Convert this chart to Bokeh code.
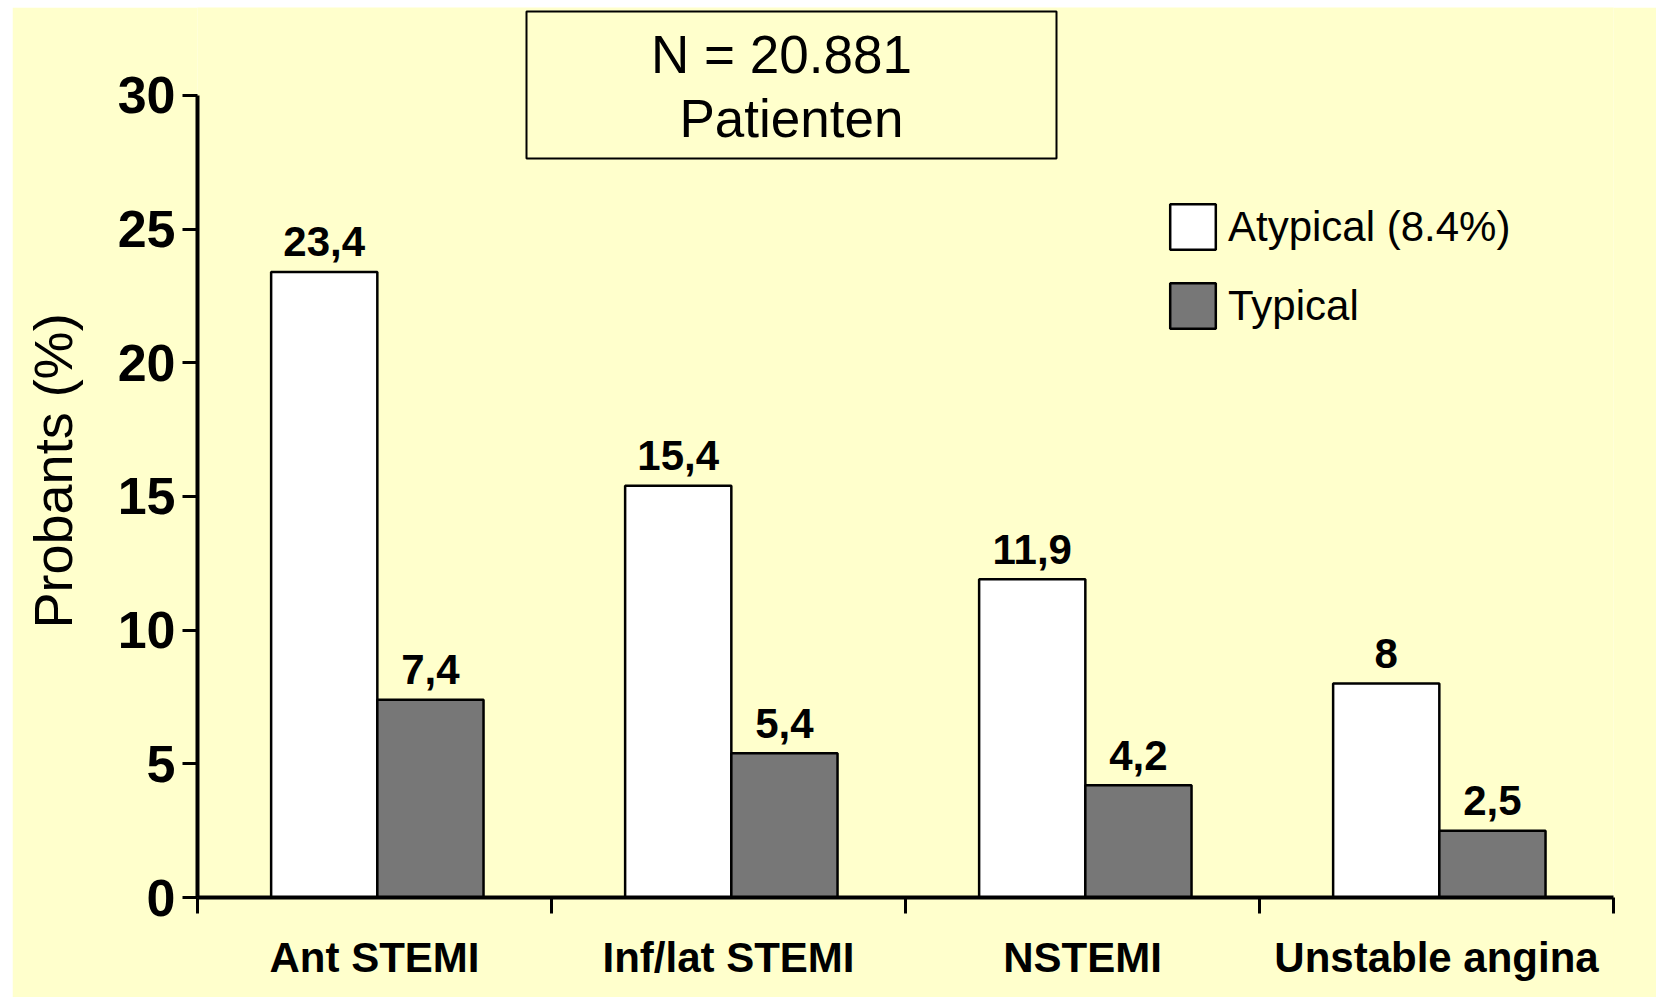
import numpy as np
from bokeh.plotting import figure
from bokeh.models import (Range1d, FixedTicker, Legend, LegendItem, BoxAnnotation,
                          Label, Title, LinearAxis, ColumnDataSource)
from bokeh.core.properties import value
from bokeh.embed import file_html
from bokeh.resources import INLINE

# ---------------- data ----------------
categories = ["Ant STEMI", "Inf/lat STEMI", "NSTEMI", "Unstable angina"]
atypical = [23.4, 15.4, 11.9, 8.0]
typical = [7.4, 5.4, 4.2, 2.5]
series_names = ["Atypical (8.4%)", "Typical"]
y_ticks = [0, 5, 10, 15, 20, 25, 30]
title_lines = ["N = 20.881", "Patienten"]
y_label = "Probants (%)"

# ---------------- style ----------------
BG = "#FFFFCC"
GREY = "#777777"
FONT = "Liberation Sans"
Y_TOP = 33.29     # frame extends above the axis (axis itself bounded at 30)
PAIR_CENTER = 0.508
BAR_W = 0.30


def fmt(v):
    return f"{v:g}".replace(".", ",")


n = len(categories)
centers = np.arange(n) + PAIR_CENTER
src_a = ColumnDataSource(dict(x=centers - BAR_W / 2, top=atypical,
                              lbl=[fmt(v) for v in atypical]))
src_t = ColumnDataSource(dict(x=centers + BAR_W / 2, top=typical,
                              lbl=[fmt(v) for v in typical]))

p = figure(width=1644, height=990, x_range=Range1d(0, n), y_range=Range1d(0, Y_TOP),
           output_backend="svg", toolbar_location=None,
           min_border_left=185, min_border_right=43, min_border_top=0,
           min_border_bottom=100,
           background_fill_color=BG, border_fill_color=BG, outline_line_color=None)
p.margin = (7, 0, 0, 12)
p.grid.visible = False

ra = p.vbar(x="x", top="top", bottom=0, width=BAR_W, source=src_a,
            fill_color="white", line_color="black", line_width=2.5)
rt = p.vbar(x="x", top="top", bottom=0, width=BAR_W, source=src_t,
            fill_color=GREY, line_color="black", line_width=2.5)

for src in (src_a, src_t):
    p.text(x="x", y="top", text="lbl", source=src, text_font=value(FONT),
           text_font_style="bold", text_font_size="42px", text_align="center",
           text_baseline="alphabetic", y_offset=-30, text_color="black")

# y axis
ya = p.yaxis[0]
ya.ticker = FixedTicker(ticks=y_ticks)
ya.bounds = (y_ticks[0], y_ticks[-1])
ya.axis_line_width = 4
ya.axis_line_color = "black"
ya.major_tick_line_width = 3
ya.major_tick_out = 15
ya.major_tick_in = 0
ya.minor_tick_out = 0
ya.minor_tick_in = 0
ya.major_label_standoff = 7
ya.major_label_text_font = FONT
ya.major_label_text_font_style = "bold"
ya.major_label_text_font_size = "52px"
ya.major_label_text_color = "black"

# invisible spacer panel between the tick labels and the axis title
spacer = LinearAxis(ticker=FixedTicker(ticks=[y_ticks[0]]), axis_line_color=None,
                    major_tick_out=32, major_tick_in=0, minor_tick_out=0, minor_tick_in=0,
                    major_tick_line_color=None, minor_tick_line_color=None,
                    major_label_standoff=0, major_label_overrides={y_ticks[0]: ""})
p.add_layout(spacer, "left")

# y axis title, as a side title so it can be nudged along the axis
p.add_layout(Title(text=y_label, align="left", offset=269, vertical_align="bottom",
                   text_font=FONT, text_font_size="54px", text_font_style="normal",
                   text_color="black", standoff=0), "left")

# x axis: labels centred in category, ticks at boundaries
xa = p.xaxis[0]
label_pos = [float(i) + 0.5 for i in range(n)]
xa.ticker = FixedTicker(ticks=label_pos, minor_ticks=[float(i) for i in range(n + 1)])
xa.major_label_overrides = {pos: c for pos, c in zip(label_pos, categories)}
xa.axis_line_width = 4
xa.axis_line_color = "black"
xa.major_tick_out = 0
xa.major_tick_in = 0
xa.major_tick_line_color = None
xa.minor_tick_out = 16
xa.minor_tick_in = 0
xa.minor_tick_line_width = 3
xa.minor_tick_line_color = "black"
xa.major_label_standoff = 20
xa.major_label_text_font = FONT
xa.major_label_text_font_style = "bold"
xa.major_label_text_font_size = "42px"
xa.major_label_text_color = "black"

# legend
legend = Legend(items=[LegendItem(label=series_names[0], renderers=[ra]),
                       LegendItem(label=series_names[1], renderers=[rt])],
                location=(967, 563), orientation="vertical",
                border_line_color=None, background_fill_alpha=0,
                padding=0, margin=0, spacing=22, label_standoff=7,
                glyph_width=57, glyph_height=57, label_height=57,
                label_text_font=FONT, label_text_font_size="42px",
                label_text_color="black")
p.add_layout(legend)

# title box
box = BoxAnnotation(left=329, right=859, bottom=739, top=886,
                    left_units="screen", right_units="screen",
                    top_units="screen", bottom_units="screen",
                    fill_color=BG, fill_alpha=1.0, line_color="black",
                    line_alpha=1.0, line_width=2)
p.add_layout(box)
for txt, xx, yy in zip(title_lines, (584, 594), (843, 779)):
    p.add_layout(Label(x=xx, y=yy, x_units="screen", y_units="screen", text=txt,
                       text_align="center", text_baseline="alphabetic",
                       text_font=FONT, text_font_size="53px", text_color="black"))

open("out.html", "w").write(file_html(p, INLINE))
